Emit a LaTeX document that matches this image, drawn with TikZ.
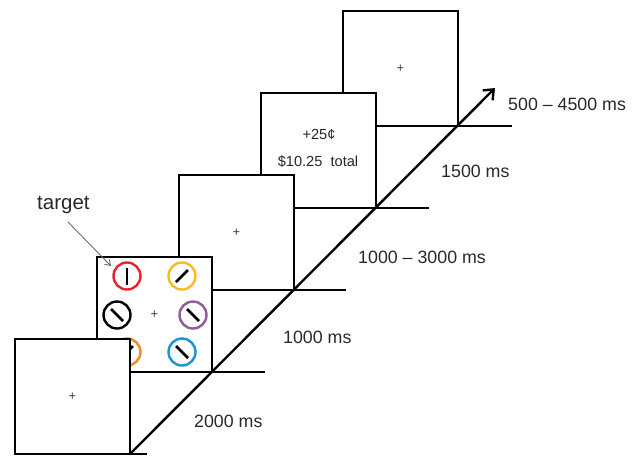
\documentclass[tikz,border=0pt]{standalone}
\usepackage{fontspec}
\setmainfont{Liberation Sans}
\usetikzlibrary{arrows.meta,calc}

\definecolor{ringred}{RGB}{232,36,42}
\definecolor{ringgold}{RGB}{250,186,36}
\definecolor{ringpurple}{RGB}{140,94,150}
\definecolor{ringorange}{RGB}{238,140,44}
\definecolor{ringblue}{RGB}{24,150,212}
\definecolor{inkgray}{RGB}{40,40,40}

\begin{document}
\begin{tikzpicture}[x=1pt,y=-1pt,
  screen/.style={draw=black,fill=white,line width=2.6pt,minimum size=115pt,
                 inner sep=0pt,outer sep=0pt},
  floorline/.style={line width=2.6pt},
  fixcross/.style={font=\fontsize{13}{14}\selectfont,text=black!75,inner sep=0pt},
  durlabel/.style={font=\fontsize{17.8}{20}\selectfont,text=inkgray,anchor=west,inner sep=0pt},
  ring/.style={circle,draw=#1,line width=2.4pt,minimum size=27pt,inner sep=0pt,fill=white},
  tick/.style={line width=2.5pt},
  msg/.style={font=\fontsize{14.6}{16}\selectfont,text=inkgray,inner sep=0pt}
]
\useasboundingbox (0,0) rectangle (636,456);

% last screen (back)
\node[screen] (s5) at (400.5,68.5) {};
\node[fixcross] (f5) at (s5.center) {+};
\draw[floorline] (s5.south east) -- ++(54,0) coordinate (e5);

% feedback screen
\node[screen] (s4) at (318.5,150.5) {};
\node[msg] (gain) at (319,135) {+25¢};
\node[msg] (bank) at (318,162) {\$10.25\ \ total};
\draw[floorline] (s4.south east) -- ++(53,0) coordinate (e4);

% delay screen
\node[screen] (s3) at (236.5,232.5) {};
\node[fixcross] (f3) at (s3.center) {+};
\draw[floorline] (s3.south east) -- ++(52,0) coordinate (e3);

% search display
\node[screen] (s2) at (154.5,314.5) {};
\node[fixcross] (f2) at (s2.center) {+};
\node[ring=ringred]    (rr) at (127,276) {};
\node[ring=ringgold]   (ry) at (182,276) {};
\node[ring=black]      (rk) at (117,315) {};
\node[ring=ringpurple] (rp) at (193,315) {};
\node[ring=ringorange] (ro) at (127,352) {};
\node[ring=ringblue]   (rb) at (182,352) {};
\draw[tick] ($(rr)+(0,-8.5)$) -- ($(rr)+(0,8.5)$);
\draw[tick] ($(ry)+(-6,6)$) -- ($(ry)+(6,-6)$);
\draw[tick] ($(rk)+(-6,-6)$) -- ($(rk)+(6,6)$);
\draw[tick] ($(rp)+(-6,-6)$) -- ($(rp)+(6,6)$);
\draw[tick] ($(ro)+(-6,6)$) -- ($(ro)+(6,-6)$);
\draw[tick] ($(rb)+(-6,-6)$) -- ($(rb)+(6,6)$);
\draw[floorline] (s2.south east) -- ++(53,0) coordinate (e2);

% first fixation screen (front)
\node[screen] (s1) at (72.5,396.5) {};
\node[fixcross] (f1) at (s1.center) {+};
\draw[floorline] (s1.south east) -- ++(17,0) coordinate (e1);

% time axis
\coordinate (tip) at (495,88);
\draw[line width=2.4pt,-{Straight Barb[length=8.5pt,width=14pt]}] (s1.south east) -- (tip);

% durations
\node[durlabel] (d1) at (194,421) {2000 ms};
\node[durlabel] (d2) at (283,337) {1000 ms};
\node[durlabel] (d3) at (358,257) {1000 -- 3000 ms};
\node[durlabel] (d4) at (441,171) {1500 ms};
\node[durlabel] (d5) at (508,104) {500 -- 4500 ms};

% target pointer
\node[font=\fontsize{20.5}{22}\selectfont,text=inkgray,anchor=west,inner sep=0pt] (tg) at (37,205) {target};
\coordinate (tgfrom) at (68,222);
\coordinate (tgto) at (111,266);
\draw[gray!85!black,line width=0.9pt,-{Straight Barb[length=5pt,width=7pt]}] (tgfrom) -- (tgto);
\end{tikzpicture}
\end{document}
